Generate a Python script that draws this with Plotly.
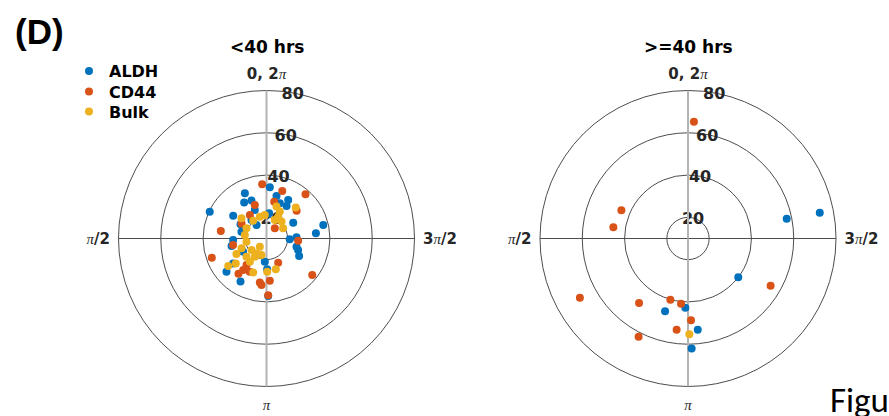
import numpy as np
import plotly.graph_objects as go

# ---------------- data (theta in degrees, 0 at top, counterclockwise) ----------------
# <40 hrs
aldh_lt_r = [39.7, 29.1, 33.7, 30.0, 29.3, 34.3, 30.7, 30.9, 28.1, 27.8, 24.7, 37.6, 33.5, 24.2,
             21.0, 25.9, 27.5, 24.7, 25.8, 26.9, 24.0, 22.3, 34.6, 29.7, 33.8, 21.0, 24.6, 37.2,
             21.3, 17.9, 22.7, 24.6, 22.0]
aldh_lt_t = [64.7, 55.6, 25.6, 31.9, 21.6, 356.3, 346.8, 330.6, 328.4, 339.2, 300.7, 283.4, 276.0, 272.2,
             268.0, 250.0, 241.8, 254.8, 92.6, 102.1, 61.4, 74.7, 129.7, 126.7, 148.9, 175.9, 181.2, 181.7,
             39.0, 36.5, 119.4, 22.3, 354.0]
cd44_lt_r = [35.7, 33.7, 37.9, 29.4, 26.8, 27.8, 31.9, 37.4, 26.1, 23.8, 16.2, 20.2, 25.0, 22.7,
             37.7, 31.1, 32.1, 36.9, 30.0, 25.7, 28.5, 27.6, 31.3, 23.6]
cd44_lt_t = [4.6, 341.7, 318.6, 312.8, 19.2, 348.2, 80.7, 109.3, 101.0, 58.8, 320.7, 332.4, 266.1, 205.8,
             231.4, 171.4, 173.9, 181.7, 184.5, 143.0, 143.5, 153.3, 141.5, 35.3]
bulk_lt_r = [30.2, 25.8, 24.2, 19.6, 20.7, 19.2, 20.8, 21.1, 20.5, 25.2, 20.4, 19.6, 22.7, 18.9,
             15.0, 18.5, 18.2, 26.0, 32.3, 28.7, 27.3, 25.7, 25.2, 23.5, 22.8, 20.2, 21.7, 20.6]
bulk_lt_t = [316.7, 342.6, 333.6, 335.8, 318.3, 301.4, 17.0, 4.1, 36.8, 51.1, 80.8, 99.0, 111.5, 127.5,
             140.8, 146.0, 163.1, 117.3, 125.7, 129.0, 158.7, 181.2, 196.8, 144.3, 132.2, 147.3, 331.9, 63.1]

# >=40 hrs
aldh_ge_r = [57.6, 73.5, 42.8, 46.1, 40.0, 53.4, 62.0]
aldh_ge_t = [281.3, 281.1, 177.8, 162.5, 232.4, 186.1, 181.9]
cd44_ge_r = [65.3, 44.2, 45.7, 68.3, 48.3, 40.1, 41.0, 55.0, 48.7, 53.5, 62.0]
cd44_ge_t = [357.1, 67.1, 81.5, 118.7, 142.8, 163.9, 173.9, 240.3, 182.1, 172.9, 153.3]
bulk_ge_r = [55.3]
bulk_ge_t = [180.8]

series_names = ["ALDH", "CD44", "Bulk"]
series_colors = ["#0072BD", "#D95319", "#EDB120"]
radial_ticks = [20, 40, 60, 80]
radial_range = [10, 80]
angle_ticks = [0, 90, 180, 270]
PI = '<span style="font-family:Liberation Serif;font-style:italic;font-weight:normal">π</span>'
angle_labels = ["0, 2" + PI, PI + "/2", PI, "3" + PI + "/2"]
titles = ["<40 hrs", ">=40 hrs"]

FONT = "DejaVu Sans"
TXT = "#262626"
RLABEL_ANGLE = 80.4   # direction along which the radial tick labels sit
RLABEL_SHIFT_X = -18  # px horizontal shift of the label layer
RLABEL_SHIFT_Y = 3    # px upward shift of the label layer

fig = go.Figure()

panels = [
    (aldh_lt_r, aldh_lt_t, cd44_lt_r, cd44_lt_t, bulk_lt_r, bulk_lt_t),
    (aldh_ge_r, aldh_ge_t, cd44_ge_r, cd44_ge_t, bulk_ge_r, bulk_ge_t),
]
legend_ids = ["legend", "legend2", "legend3"]
legend_rows_y = [71, 91.5, 111.5]

W, H = 889, 416
R = 148
centers = [(266.5, 238.5), (688.0, 238.5)]


def pid(n):
    return "polar" if n == 1 else "polar%d" % n


for i, pdata in enumerate(panels):
    base, labels, data = pid(3 * i + 1), pid(3 * i + 2), pid(3 * i + 3)
    fig.add_trace(go.Scatterpolar(r=[], theta=[], subplot=base, showlegend=False, hoverinfo="skip"))
    fig.add_trace(go.Scatterpolar(r=[], theta=[], subplot=labels, showlegend=False, hoverinfo="skip"))
    for k in range(3):
        fig.add_trace(go.Scatterpolar(
            r=pdata[2 * k], theta=pdata[2 * k + 1], mode="markers", subplot=data,
            name=series_names[k], legendgroup=series_names[k], showlegend=(i == 0),
            legend=legend_ids[k],
            marker=dict(color=series_colors[k], size=8, line=dict(width=0)),
        ))

layout = dict(
    width=W, height=H, margin=dict(l=0, r=0, t=0, b=0),
    paper_bgcolor="white", plot_bgcolor="white",
    showlegend=True,
)
for k, lid in enumerate(legend_ids):
    layout[lid] = dict(x=69 / W, y=1 - legend_rows_y[k] / H, xanchor="left", yanchor="middle",
                       font=dict(family=FONT, size=16, color="black", weight="bold"),
                       bgcolor="rgba(0,0,0,0)", borderwidth=0)

for i, (cx, cy) in enumerate(centers):
    dom = dict(x=[(cx - R) / W, (cx + R) / W], y=[(H - cy - R) / H, (H - cy + R) / H])
    dom_lab = dict(x=[(cx - R + RLABEL_SHIFT_X) / W, (cx + R + RLABEL_SHIFT_X) / W],
                   y=[(H - cy - R + RLABEL_SHIFT_Y) / H, (H - cy + R + RLABEL_SHIFT_Y) / H])
    base, labels, data = pid(3 * i + 1), pid(3 * i + 2), pid(3 * i + 3)
    layout[base] = dict(
        domain=dom, bgcolor="white",
        radialaxis=dict(range=radial_range, tickvals=radial_ticks, showticklabels=False,
                        showline=False, ticks="", gridcolor="#4d4d4d", gridwidth=1,
                        layer="below traces"),
        angularaxis=dict(rotation=90, direction="counterclockwise", tickvals=angle_ticks,
                         ticktext=angle_labels, showline=True, linecolor="#4d4d4d", linewidth=1,
                         ticks="outside", ticklen=5, tickcolor="rgba(0,0,0,0)",
                         gridcolor="#4d4d4d", gridwidth=1, layer="below traces",
                         tickfont=dict(family=FONT, size=15, color=TXT, weight="bold")),
    )
    layout[labels] = dict(
        domain=dom_lab, bgcolor="rgba(0,0,0,0)",
        radialaxis=dict(range=radial_range, tickvals=radial_ticks, angle=RLABEL_ANGLE,
                        tickangle=RLABEL_ANGLE, showgrid=False, showline=False, ticks="",
                        layer="below traces",
                        tickfont=dict(family=FONT, size=16, color=TXT, weight="bold")),
        angularaxis=dict(showgrid=False, showline=False, showticklabels=False, ticks=""),
    )
    layout[data] = dict(
        domain=dom, bgcolor="rgba(0,0,0,0)",
        radialaxis=dict(range=radial_range, showgrid=False, showline=False, showticklabels=False,
                        ticks=""),
        angularaxis=dict(rotation=90, direction="counterclockwise", tickvals=[0, 180],
                         showticklabels=False, showline=False, ticks="",
                         gridcolor="#b3b3b3", gridwidth=2, layer="below traces"),
    )

fig.update_layout(**layout)

for i, (cx, cy) in enumerate(centers):
    fig.add_annotation(text="<b>%s</b>" % titles[i].replace("<", "&lt;").replace(">", "&gt;"),
                       x=cx / W, y=1 - 47 / H, xref="paper", yref="paper",
                       showarrow=False, xanchor="center", yanchor="middle",
                       font=dict(family=FONT, size=17, color="black"))

fig.add_annotation(text="<b>(D)</b>", x=13 / W, y=1 - 32 / H, xref="paper", yref="paper",
                   showarrow=False, xanchor="left", yanchor="middle",
                   font=dict(family="Liberation Sans", size=35, color="black"))
fig.add_annotation(text="Figure", x=828 / W, y=1 - 400 / H, xref="paper", yref="paper",
                   showarrow=False, xanchor="left", yanchor="middle",
                   font=dict(family="Carlito, Open Sans", size=35, color="black"))

fig.write_html("out.html")
